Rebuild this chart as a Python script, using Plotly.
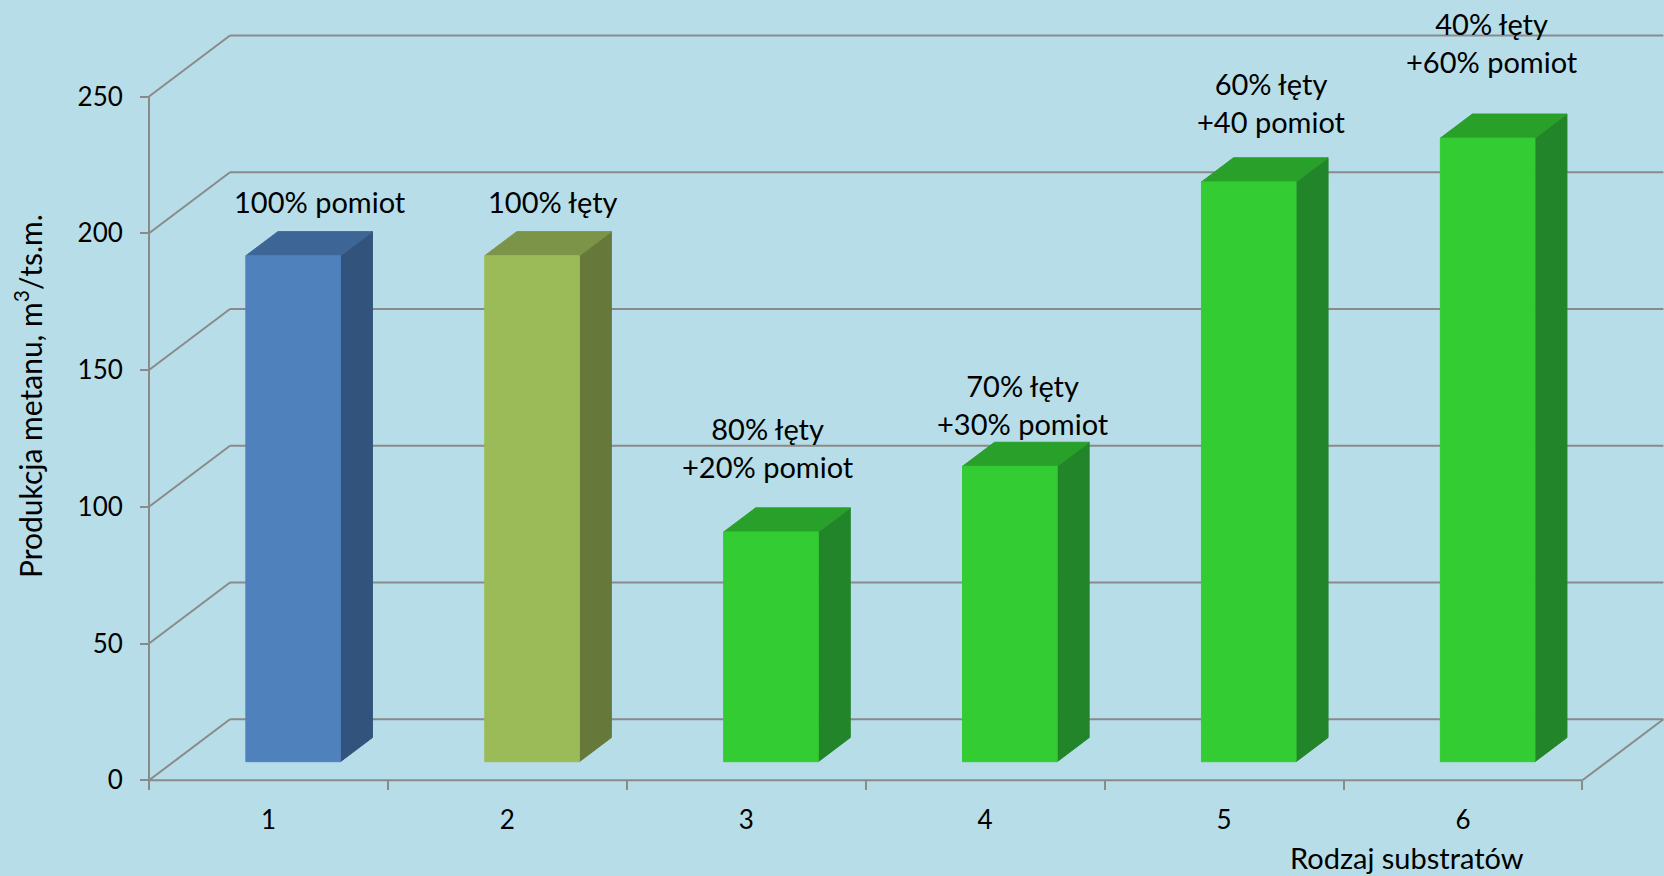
import plotly.graph_objects as go

# ---- data ----
categories = ["1", "2", "3", "4", "5", "6"]
methane = [185, 185, 84, 108, 212, 228]
bar_labels = [
    "100% pomiot",
    "100% łęty",
    "80% łęty<br>+20% pomiot",
    "70% łęty<br>+30% pomiot",
    "60% łęty<br>+40 pomiot",
    "40% łęty<br>+60% pomiot",
]
y_ticks = [0, 50, 100, 150, 200, 250]

# ---- styling: (front, top, side) per bar ----
BLUE = ("#4F81BD", "#3D6696", "#32547C")
OLIVE = ("#9BBB59", "#7B9447", "#66793A")
GREEN = ("#33CC33", "#29A02A", "#22852A")
bar_styles = [BLUE, OLIVE, GREEN, GREEN, GREEN, GREEN]
label_xshift = [11, 5, -19, -3, 7, -12]
label_yshift = [30, 30, 60, 38, 55, 72]

GRID = "#8A8A8A"
BG = "#B7DEE8"
FONT = "Lato, 'Open Sans', sans-serif"

# ---- geometry of the pseudo-3D box ----
W, H = 1664, 876
ML, MB = 139, 86
PX_X = 238.9          # pixels per category
PX_Y = 2.735          # pixels per value unit
AXIS_PX_X = 149       # screen x of the value axis
AXIS_PX_Y = 780.3     # screen y of value 0
DX = 81 / PX_X        # depth offset, category units
DY = 61 / PX_Y        # depth offset, value units
F0, F1 = 0.305, 0.70  # front/back depth of the bars
BAR_W = 0.396

plot_w, plot_h = W - ML, H - MB
xmin = -(AXIS_PX_X - ML) / PX_X
xmax = xmin + plot_w / PX_X
ymin = -(plot_h - AXIS_PX_Y) / PX_Y
ymax = ymin + plot_h / PX_Y
n = len(categories)

fig = go.Figure()


def add_lines(segments, color=GRID, width=2):
    xs, ys = [], []
    for (x0, y0), (x1, y1) in segments:
        xs += [x0, x1, None]
        ys += [y0, y1, None]
    fig.add_trace(go.Scatter(x=xs, y=ys, mode="lines",
                             line=dict(color=color, width=width),
                             hoverinfo="skip", showlegend=False))


# walls: side-wall diagonals + back-wall gridlines
segs = []
for v in y_ticks:
    segs.append(((0, v), (DX, v + DY)))
    segs.append(((DX, v + DY), (n + DX, v + DY)))
# floor front edge, right edge, value axis line
segs.append(((0, 0), (n, 0)))
segs.append(((n, 0), (n + DX, DY)))
segs.append(((0, 0), (0, y_ticks[-1])))
add_lines(segs)


def poly(pts, color, edge):
    xs = [p[0] for p in pts] + [pts[0][0]]
    ys = [p[1] for p in pts] + [pts[0][1]]
    fig.add_trace(go.Scatter(x=xs, y=ys, mode="lines", fill="toself",
                             fillcolor=color, line=dict(color=edge, width=1),
                             hoverinfo="skip", showlegend=False))


for i, v in enumerate(methane):
    front, top, side = bar_styles[i]
    c = i + 0.5
    x0, x1 = c - BAR_W / 2, c + BAR_W / 2
    ax, ay = F0 * DX, F0 * DY
    bx, by = F1 * DX, F1 * DY
    # side face
    poly([(x1 + ax, ay), (x1 + bx, by), (x1 + bx, v + by), (x1 + ax, v + ay)], side, side)
    # top face
    poly([(x0 + ax, v + ay), (x1 + ax, v + ay), (x1 + bx, v + by), (x0 + bx, v + by)], top, top)
    # front face
    poly([(x0 + ax, ay), (x1 + ax, ay), (x1 + ax, v + ay), (x0 + ax, v + ay)], front, front)
    fig.add_annotation(
        x=c + (F0 + F1) / 2 * DX, y=v + F1 * DY, text=bar_labels[i],
        showarrow=False, xanchor="center", yanchor="middle",
        xshift=label_xshift[i], yshift=label_yshift[i],
        font=dict(family=FONT, size=29, color="black"),
    )

# axis titles
fig.add_annotation(
    text="Produkcja metanu, m<sup>3</sup>/ts.m.", textangle=-90,
    xref="paper", yref="paper",
    x=(28 - ML) / plot_w, y=(plot_h - 396) / plot_h,
    xanchor="center", yanchor="middle", showarrow=False,
    font=dict(family=FONT, size=30, color="black"),
)
fig.add_annotation(
    text="Rodzaj substratów", xref="paper", yref="paper",
    x=(1407 - ML) / plot_w, y=(plot_h - 857) / plot_h,
    xanchor="center", yanchor="middle", showarrow=False,
    font=dict(family=FONT, size=29, color="black"),
)

fig.update_layout(
    width=W, height=H,
    margin=dict(l=ML, r=0, t=0, b=MB, pad=0),
    paper_bgcolor=BG, plot_bgcolor=BG,
    showlegend=False,
    font=dict(family=FONT, size=26, color="black"),
    xaxis=dict(
        range=[xmin, xmax], anchor="free",
        position=(plot_h - AXIS_PX_Y) / plot_h,
        tickmode="array", tickvals=[i + 0.5 for i in range(n)], ticktext=categories,
        ticks="", showgrid=False, zeroline=False, showline=False,
        ticklabelstandoff=22,
        minor=dict(tickmode="array", tickvals=list(range(n + 1)), ticks="outside",
                   ticklen=9, tickwidth=2, tickcolor=GRID, showgrid=False),
        fixedrange=True,
    ),
    yaxis=dict(
        range=[ymin, ymax], anchor="free",
        position=(AXIS_PX_X - ML) / plot_w,
        tickmode="array", tickvals=y_ticks,
        ticks="outside", ticklen=9, tickwidth=2, tickcolor=GRID,
        ticklabelstandoff=12,
        showgrid=False, zeroline=False, showline=False,
        fixedrange=True,
    ),
)

fig.write_html("out.html")
